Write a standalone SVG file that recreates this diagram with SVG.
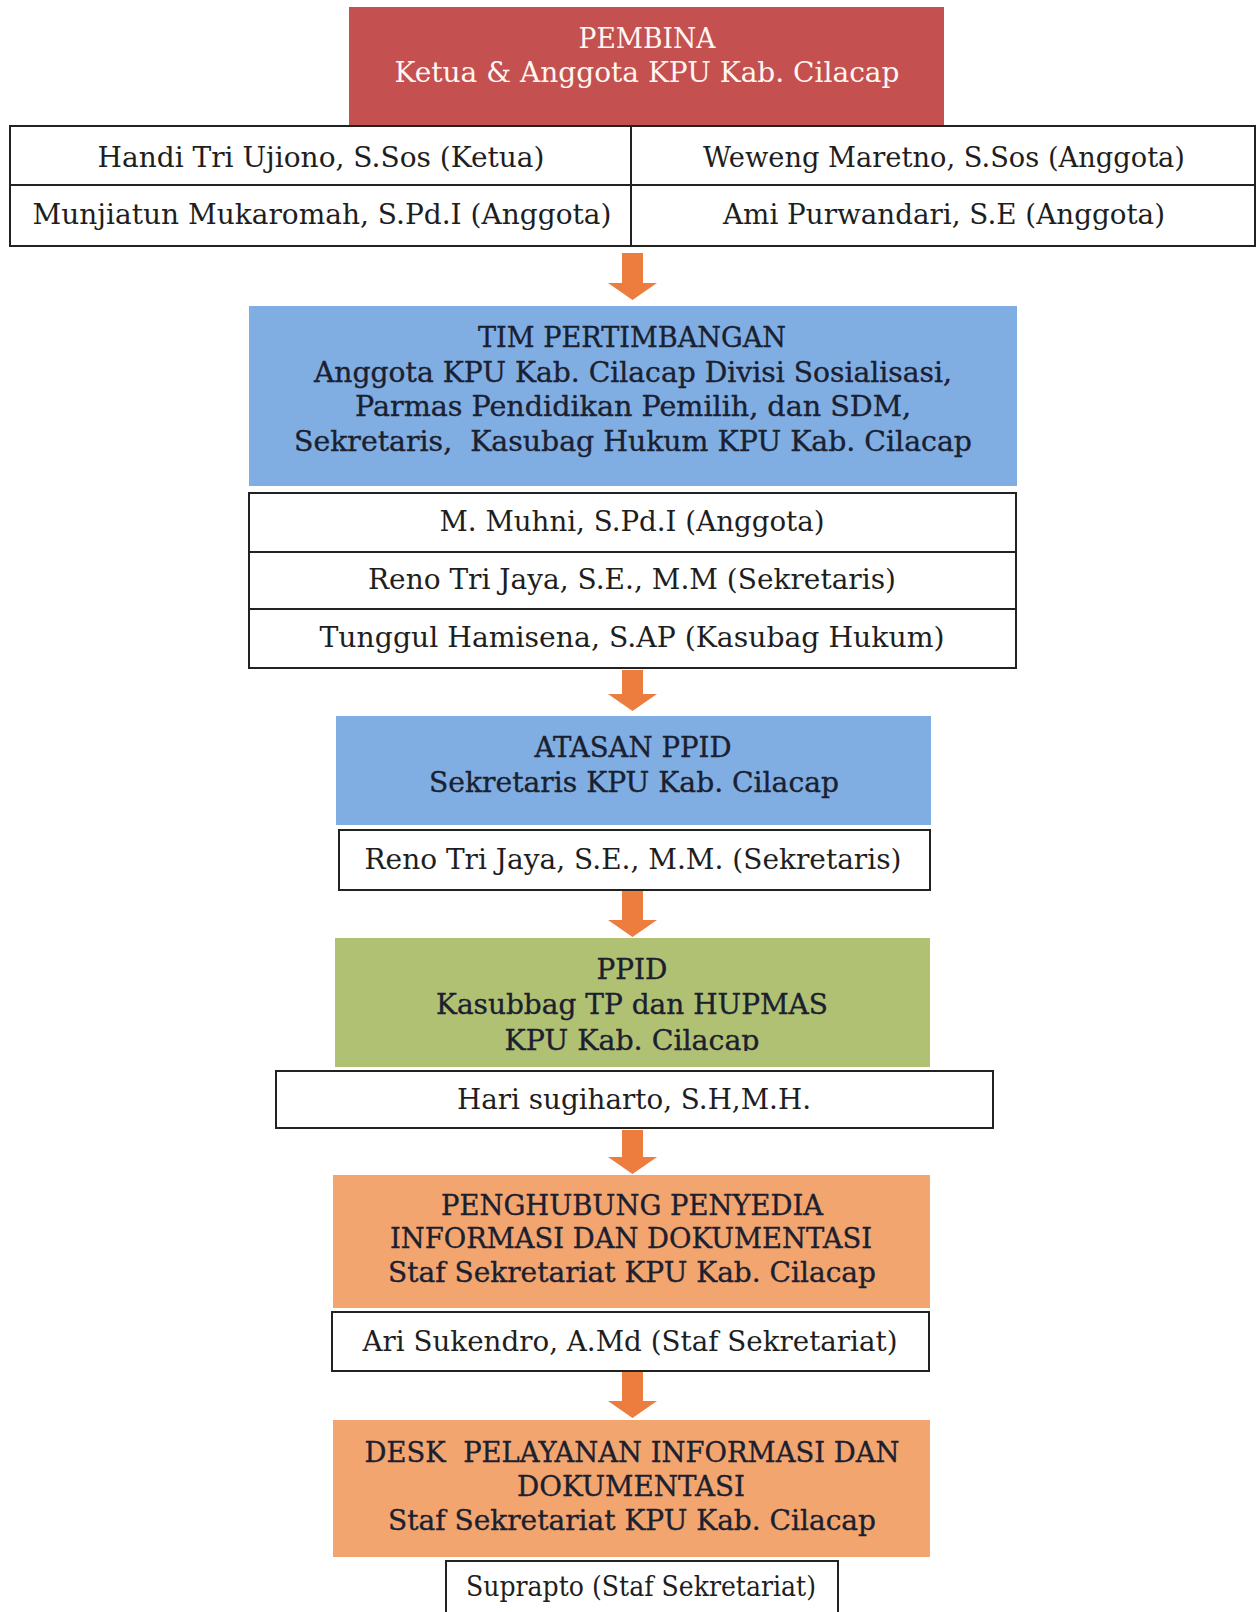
<svg xmlns="http://www.w3.org/2000/svg" width="1257" height="1612" viewBox="0 0 1257 1612">
<defs>
<style>
.t{font-family:"DejaVu Serif","Liberation Serif",serif;font-size:27px;fill:#1e1e1e;text-anchor:middle}
.c{font-family:"DejaVu Serif","Liberation Serif",serif;font-size:28px;fill:#1b2030;stroke:#1b2030;stroke-width:0.35px;text-anchor:middle;white-space:pre}
.w{font-family:"DejaVu Serif","Liberation Serif",serif;font-size:27px;fill:#fff6f2;text-anchor:middle}
.box{fill:#ffffff;stroke:#222;stroke-width:2}
.ln{stroke:#222;stroke-width:2;fill:none}
.red{fill:#c4504f}
.blue{fill:#80aee2}
.green{fill:#b1c173}
.orange{fill:#f2a56e}
.arr{fill:#ec7d3e}
</style>
<clipPath id="ppidclip"><rect x="330" y="930" width="610" height="121"/></clipPath>
</defs>

<g id="pembina">
<rect class="red" x="349" y="7" width="595" height="119"/>
<text class="w" x="647" y="48" textLength="137" lengthAdjust="spacingAndGlyphs">PEMBINA</text>
<text class="w" x="647" y="82" textLength="505" lengthAdjust="spacingAndGlyphs">Ketua &amp; Anggota KPU Kab. Cilacap</text>
</g>

<g id="pembina-members">
<rect class="box" x="10" y="126" width="1245" height="120"/>
<line class="ln" x1="631" y1="126" x2="631" y2="246"/>
<line class="ln" x1="10" y1="185" x2="1255" y2="185"/>
<text class="t" x="321" y="167" textLength="447" lengthAdjust="spacingAndGlyphs">Handi Tri Ujiono, S.Sos (Ketua)</text>
<text class="t" x="944" y="167" textLength="482" lengthAdjust="spacingAndGlyphs">Weweng Maretno, S.Sos (Anggota)</text>
<text class="t" x="322" y="224" textLength="579" lengthAdjust="spacingAndGlyphs">Munjiatun Mukaromah, S.Pd.I (Anggota)</text>
<text class="t" x="944" y="224" textLength="442" lengthAdjust="spacingAndGlyphs">Ami Purwandari, S.E (Anggota)</text>
</g>

<g id="tim-pertimbangan">
<rect class="blue" x="249" y="306" width="768" height="180"/>
<text class="c" x="632" y="347" textLength="308" lengthAdjust="spacingAndGlyphs">TIM PERTIMBANGAN</text>
<text class="c" x="633" y="382" textLength="638" lengthAdjust="spacingAndGlyphs">Anggota KPU Kab. Cilacap Divisi Sosialisasi,</text>
<text class="c" x="633" y="416" textLength="556" lengthAdjust="spacingAndGlyphs">Parmas Pendidikan Pemilih, dan SDM,</text>
<text class="c" x="633" y="451" textLength="678" lengthAdjust="spacingAndGlyphs" xml:space="preserve">Sekretaris,  Kasubag Hukum KPU Kab. Cilacap</text>
</g>

<g id="tim-members">
<rect class="box" x="249" y="493" width="767" height="175"/>
<line class="ln" x1="249" y1="552" x2="1016" y2="552"/>
<line class="ln" x1="249" y1="609" x2="1016" y2="609"/>
<text class="t" x="632" y="531" textLength="385" lengthAdjust="spacingAndGlyphs">M. Muhni, S.Pd.I (Anggota)</text>
<text class="t" x="632" y="589" textLength="528" lengthAdjust="spacingAndGlyphs">Reno Tri Jaya, S.E., M.M (Sekretaris)</text>
<text class="t" x="632" y="647" textLength="625" lengthAdjust="spacingAndGlyphs">Tunggul Hamisena, S.AP (Kasubag Hukum)</text>
</g>

<g id="atasan-ppid">
<rect class="blue" x="336" y="716" width="595" height="109"/>
<text class="c" x="633" y="757" textLength="197" lengthAdjust="spacingAndGlyphs">ATASAN PPID</text>
<text class="c" x="634" y="792" textLength="410" lengthAdjust="spacingAndGlyphs">Sekretaris KPU Kab. Cilacap</text>
</g>

<g id="atasan-member">
<rect class="box" x="339" y="830" width="591" height="60"/>
<text class="t" x="633" y="869" textLength="537" lengthAdjust="spacingAndGlyphs">Reno Tri Jaya, S.E., M.M. (Sekretaris)</text>
</g>

<g id="ppid">
<rect class="green" x="335" y="938" width="595" height="129"/>
<g clip-path="url(#ppidclip)">
<text class="c" x="632" y="979" textLength="71" lengthAdjust="spacingAndGlyphs">PPID</text>
<text class="c" x="632" y="1014" textLength="392" lengthAdjust="spacingAndGlyphs">Kasubbag TP dan HUPMAS</text>
<text class="c" x="632" y="1050" textLength="255" lengthAdjust="spacingAndGlyphs">KPU Kab. Cilacap</text>
</g>
</g>

<g id="ppid-member">
<rect class="box" x="276" y="1071" width="717" height="57"/>
<text class="t" x="634" y="1109" textLength="354" lengthAdjust="spacingAndGlyphs">Hari sugiharto, S.H,M.H.</text>
</g>

<g id="penghubung">
<rect class="orange" x="333" y="1175" width="597" height="133"/>
<text class="c" x="632" y="1215" textLength="382" lengthAdjust="spacingAndGlyphs">PENGHUBUNG PENYEDIA</text>
<text class="c" x="631" y="1248" textLength="482" lengthAdjust="spacingAndGlyphs">INFORMASI DAN DOKUMENTASI</text>
<text class="c" x="632" y="1282" textLength="488" lengthAdjust="spacingAndGlyphs">Staf Sekretariat KPU Kab. Cilacap</text>
</g>

<g id="penghubung-member">
<rect class="box" x="332" y="1312" width="597" height="59"/>
<text class="t" x="630" y="1351" textLength="535" lengthAdjust="spacingAndGlyphs">Ari Sukendro, A.Md (Staf Sekretariat)</text>
</g>

<g id="desk">
<rect class="orange" x="333" y="1420" width="597" height="137"/>
<text class="c" x="632" y="1462" textLength="535" lengthAdjust="spacingAndGlyphs" xml:space="preserve">DESK  PELAYANAN INFORMASI DAN</text>
<text class="c" x="631" y="1496" textLength="228" lengthAdjust="spacingAndGlyphs">DOKUMENTASI</text>
<text class="c" x="632" y="1530" textLength="488" lengthAdjust="spacingAndGlyphs">Staf Sekretariat KPU Kab. Cilacap</text>
</g>

<g id="desk-member">
<rect class="box" x="446" y="1561" width="392" height="70"/>
<text class="t" x="641" y="1596" textLength="350" lengthAdjust="spacingAndGlyphs">Suprapto (Staf Sekretariat)</text>
</g>

<g id="connectors">
<polygon class="arr" points="622,253 643,253 643,283 657,283 632.5,300 608,283 622,283"/>
<polygon class="arr" points="622,670 643,670 643,694 657,694 632.5,711 608,694 622,694"/>
<polygon class="arr" points="622,891 643,891 643,920 657,920 632.5,937 608,920 622,920"/>
<polygon class="arr" points="622,1130 643,1130 643,1157 657,1157 632.5,1174 608,1157 622,1157"/>
<polygon class="arr" points="622,1372 643,1372 643,1401 657,1401 632.5,1418 608,1401 622,1401"/>
</g>
</svg>
